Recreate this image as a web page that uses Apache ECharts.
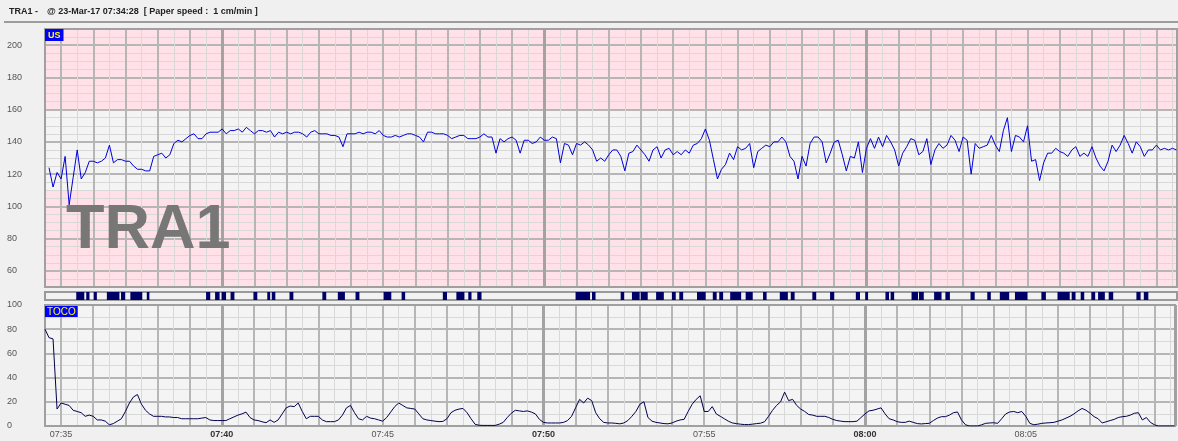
<!DOCTYPE html>
<html>
<head>
<meta charset="utf-8">
<title>TRA1 CTG</title>
<script src="https://cdn.jsdelivr.net/npm/echarts@6/dist/echarts.min.js"></script>
<style>
  html, body { margin: 0; padding: 0; background: #f0f0f0; }
  #chart { width: 1178px; height: 441px; }
</style>
</head>
<body>
<div id="chart"></div>
<script>
// times are minutes after 07:00, trace starts 07:34:28
const sampleStep = 0.125 // 7.5 s per sample
const fhrStart = 34.625
const tocoStart = 34.5

// fetal heart rate (bpm)
const fhrValues = [
  124,112,121,117,131,101,118,135,117,121,
  128,128,127,128,130,138,127,129,129,128,
  128,125,123,123,122,122,131,132,133,130,
  132,139,141,140,142,144,145,142,142,145,
  146,146,146,148,145,147,147,148,146,149,
  147,145,147,147,146,147,143,146,145,146,
  145,146,146,145,143,146,147,145,145,145,
  144,144,143,137,145,145,145,146,145,146,
  146,145,147,144,143,143,144,143,144,145,
  145,144,143,140,146,146,145,145,145,144,
  142,143,144,144,142,142,142,143,145,143,
  143,133,142,140,142,143,141,133,141,141,
  139,140,143,141,141,143,142,127,139,138,
  132,139,138,140,138,135,128,130,128,132,
  135,135,131,122,133,134,138,135,132,128,
  135,137,130,135,136,132,134,132,135,133,
  138,139,142,148,141,129,117,123,126,133,
  129,137,135,136,139,124,134,136,138,137,
  140,140,143,140,131,128,117,131,125,139,
  143,143,140,127,133,140,141,132,122,131,
  130,140,121,136,142,136,143,137,144,140,
  135,125,133,137,142,141,132,134,142,126,
  135,139,136,138,144,141,134,143,141,120,
  139,136,137,138,144,138,134,147,155,134,
  144,143,140,150,128,129,116,127,133,133,
  136,134,133,131,135,137,131,133,131,137,
  130,125,122,128,138,134,138,144,139,133,
  140,137,131,135,135,138,135,136,135,136,
  135
]

// uterine activity (TOCO)
const tocoValues = [
  80,73,72,14,19,18,17,13,12,11,
  8,9,8,5,5,4,1,2,4,6,
  12,19,24,26,18,13,10,8,8,8,
  7.5,7.5,7,7,6,6,6,6,6,6.5,
  7,5,4.5,4.5,4.5,4.5,6,7.5,9,10,
  11.5,7,5,4.5,3.5,2.7,5,3,5,10,
  15,16.5,16,19,12,6,8,8,8,5,
  3.6,3.6,3.6,5,9,15,17,11,6,5,
  8,6.5,6,5,4,7,11.5,16,19,17,
  15,14.5,14,10,6,5,4.5,4,3.6,3.8,
  6,11,13,14,14.5,11,6,1.4,0.6,0.5,
  0.5,0.5,0.5,1.5,3,7,10.5,13,12.5,12,
  12.5,11.5,10,5.5,3,2.5,2.5,2.5,2.5,3,
  4.5,8,15,22,19,23,21,11,6,3,
  2.5,2.5,2.2,1.8,2.5,4.5,8,12,18,20,
  7,4,3,2.5,2,1.8,2.5,4,5,5.5,
  12,18,22,25,12,12,16,10,8,6,
  4,2.5,2,1.5,1.2,1.2,1.5,2,2.3,3.5,
  8,13,17,20,28,21,22,17,14,12,
  9.5,9,8,8,8,7,5.5,4.5,4,3.6,
  3.6,3.6,4,7,10,12.5,13,14,15,10,
  6,5,3.6,3,3,4,3,2,1.7,2,
  2.2,4.5,6.5,7.7,7.7,9,11,11.6,5,1,
  0,0,0,1,2.2,2.5,2.7,2.2,6,10,
  11.6,12,11,12,8,2.2,1,1.5,2.2,2.5,
  2.7,3,4,5,6.5,8,10,12.5,14.5,13,
  10.5,7.7,6,2.5,3.5,4.5,5.5,7,7.7,8,
  9,10.5,11,5,7,3,1,0,0,0,
  0,0
]

// movement marker blocks, from / to (minutes after 07:00)
const markerStart = [
  35.47,35.78,36.01,36.42,36.86,37.15,37.66,39.50,39.78,39.98,
  40.26,40.97,41.40,41.54,42.09,43.11,43.59,44.14,45.01,45.57,
  46.85,47.27,47.64,47.92,50.97,51.48,52.37,52.72,52.99,53.47,
  53.96,54.19,54.74,55.23,55.43,55.77,56.25,56.79,57.31,57.65,
  58.32,58.87,59.67,59.96,60.59,60.75,61.40,61.63,62.10,62.45,
  63.23,63.75,64.14,64.61,65.43,65.93,66.37,66.65,66.98,67.19,
  67.52,68.38,68.61
]
const markerEnd = [
  35.72,35.88,36.11,36.81,36.99,37.52,37.74,39.63,39.92,40.12,
  40.38,41.09,41.49,41.65,42.21,43.23,43.81,44.26,45.25,45.68,
  46.98,47.52,47.74,48.05,51.42,51.59,52.48,52.96,53.21,53.71,
  54.08,54.31,55.01,55.35,55.55,56.11,56.47,56.90,57.56,57.77,
  58.44,59.00,59.80,60.05,60.70,60.86,61.60,61.78,62.33,62.59,
  63.36,63.86,64.43,65.00,65.57,66.31,66.49,66.76,67.10,67.40,
  67.66,68.51,68.75
]

const timeMin = 34.5
const timeMax = 69.64
const fhrMin = 50
const fhrMax = 210
const fhrLabels = [60, 80, 100, 120, 140, 160, 180, 200]
const tocoMin = 0
const tocoMax = 100
const tocoLabels = [0, 20, 40, 60, 80, 100]
const pinkBands = [[50, 110], [160, 210]]
const greyBand = [110, 160]

const LIGHT = '#d9d9d9'
const MID = '#b6b6b6'
const THICK = '#a3a3a3'
const NONE = 'rgba(0,0,0,0)'
const FONT = '"Liberation Sans", Arial, sans-serif'

const chart = echarts.init(document.getElementById('chart'))

const fhrData = fhrValues.map((v, i) => [fhrStart + i * sampleStep, v])
const tocoData = tocoValues.map((v, i) => [tocoStart + i * sampleStep, v])

const clock = m => {
  const h = 7 + Math.floor(m / 60)
  const mm = m % 60
  return (h < 10 ? '0' : '') + h + ':' + (mm < 10 ? '0' : '') + mm
}

// one set of vertical lines; colours cycle per half minute starting at 07:34:30
const thickColors = Array(20).fill(NONE)
thickColors[11] = THICK
const timeAxis = (gridIndex, colors, width, labels) => ({
  type: 'value',
  gridIndex: gridIndex,
  min: timeMin,
  max: timeMax,
  interval: 0.5,
  z: 3,
  axisLine: { show: false },
  axisTick: { show: false },
  axisLabel: labels ? {
    margin: 4,
    fontFamily: FONT,
    formatter: v => {
      const r = Math.round(v)
      if (Math.abs(v - r) > 1e-6 || r % 5 !== 0) return ''
      return r % 10 === 0 ? '{b|' + clock(r) + '}' : '{n|' + clock(r) + '}'
    },
    rich: {
      b: { fontSize: 9, fontWeight: 'bold', color: '#333', fontFamily: FONT },
      n: { fontSize: 9, color: '#555', fontFamily: FONT }
    }
  } : { show: false },
  splitLine: colors ? { show: true, lineStyle: { color: colors, width: width } } : { show: false }
})

const valueAxis = (gridIndex, min, max, interval, colors, width, labels) => ({
  type: 'value',
  gridIndex: gridIndex,
  min: min,
  max: max,
  interval: interval,
  z: 3,
  axisLine: { show: false },
  axisTick: { show: false },
  axisLabel: labels ? {
    align: 'left',
    margin: 38,
    fontSize: 9,
    color: '#555',
    fontFamily: FONT,
    formatter: v => labels.includes(v) ? String(v) : ''
  } : { show: false },
  splitLine: colors ? { show: true, lineStyle: { color: colors, width: width } } : { show: false }
})

const option = {
  animation: false,
  backgroundColor: '#f0f0f0',
  grid: [
    { left: 45, top: 29, width: 1132, height: 258, show: true, z: 4, borderColor: '#a0a0a0', borderWidth: 2, backgroundColor: NONE },
    { left: 45, top: 292, width: 1132, height: 8, show: true, borderColor: '#9a9a9a', borderWidth: 2, backgroundColor: '#f2f2f2' },
    { left: 45, top: 305, width: 1132, height: 121, show: true, z: 4, borderColor: '#a0a0a0', borderWidth: 2, backgroundColor: NONE }
  ],
  xAxis: [
    timeAxis(0, [LIGHT, NONE], 1, false),
    timeAxis(0, [NONE, MID], 2, false),
    timeAxis(0, thickColors, 3, false),
    timeAxis(1, null, 1, false),
    timeAxis(2, [LIGHT, NONE], 1, true),
    timeAxis(2, [NONE, MID], 2, false),
    timeAxis(2, thickColors, 3, false)
  ],
  yAxis: [
    valueAxis(0, fhrMin, fhrMax, 5, [LIGHT], 1, fhrLabels),
    valueAxis(0, fhrMin, fhrMax, 5, [NONE, NONE, MID, NONE], 2, null),
    valueAxis(1, 0, 1, 1, null, 1, null),
    valueAxis(2, tocoMin, tocoMax, 10, [LIGHT], 1, tocoLabels),
    valueAxis(2, tocoMin, tocoMax, 20, [MID], 2, null)
  ],
  series: [
    {
      name: 'bands',
      type: 'line',
      xAxisIndex: 0,
      yAxisIndex: 0,
      z: 1,
      data: [],
      markArea: {
        silent: true,
        data: pinkBands.map(b => [{ yAxis: b[0], itemStyle: { color: '#ffe1e7' } }, { yAxis: b[1] }])
          .concat([[{ yAxis: greyBand[0], itemStyle: { color: '#f4f4f4' } }, { yAxis: greyBand[1] }]])
      }
    },
    {
      name: 'US',
      type: 'line',
      xAxisIndex: 0,
      yAxisIndex: 0,
      z: 5,
      showSymbol: false,
      data: fhrData,
      lineStyle: { color: '#0000d8', width: 1 }
    },
    {
      name: 'markers',
      type: 'line',
      xAxisIndex: 3,
      yAxisIndex: 2,
      data: [],
      markArea: {
        silent: true,
        itemStyle: { color: '#000066' },
        data: markerStart.map((s, k) => [{ xAxis: s }, { xAxis: markerEnd[k] }])
      }
    },
    {
      name: 'tocoBg',
      type: 'line',
      xAxisIndex: 4,
      yAxisIndex: 3,
      z: 1,
      data: [],
      markArea: {
        silent: true,
        data: [[{ yAxis: tocoMin, itemStyle: { color: '#f4f4f4' } }, { yAxis: tocoMax }]]
      }
    },
    {
      name: 'TOCO',
      type: 'line',
      xAxisIndex: 4,
      yAxisIndex: 3,
      z: 5,
      showSymbol: false,
      data: tocoData,
      lineStyle: { color: '#000050', width: 1 }
    }
  ],
  graphic: [
    { type: 'text', left: 9, top: 7, z: 10, style: { text: 'TRA1 -', font: 'bold 9px ' + FONT, fill: '#222' } },
    { type: 'text', left: 47, top: 7, z: 10, style: { text: '@ 23-Mar-17 07:34:28  [ Paper speed :  1 cm/min ]', font: 'bold 9px ' + FONT, fill: '#222' } },
    { type: 'rect', left: 4, top: 21, z: 10, shape: { width: 1174, height: 2 }, style: { fill: '#9c9c9c' } },
    { type: 'text', left: 45, top: 29, z: 10, style: { text: 'US', font: 'bold 9px ' + FONT, fill: '#ffff00', backgroundColor: '#0000ff', padding: [2, 3, 1, 3] } },
    { type: 'text', left: 45, top: 306, z: 10, style: { text: 'TOCO', font: '10px ' + FONT, fill: '#ffff00', backgroundColor: '#0000ff', padding: [1, 2, 0, 2] } },
    { type: 'text', x: 66, y: 231, z: 4, style: { text: 'TRA1', font: 'bold 63px ' + FONT, fill: '#777777', verticalAlign: 'middle', align: 'left' } }
  ]
}

chart.setOption(option)
</script>
</body>
</html>
